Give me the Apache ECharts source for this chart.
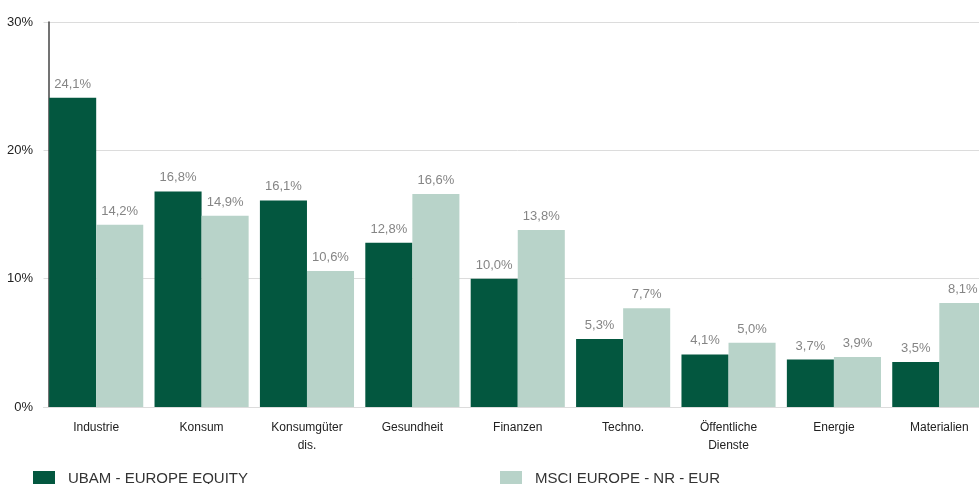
<!DOCTYPE html>
<html>
<head>
<meta charset="utf-8">
<script src="https://cdn.jsdelivr.net/npm/echarts@6/dist/echarts.min.js"></script>
<style>
  html, body { margin: 0; padding: 0; background: #fff; overflow: hidden; }
  /* chart is a bit wider than the window: the last bar is cut at the right edge */
  #chart { width: 992px; height: 484px; }
</style>
</head>
<body>
<div id="chart"></div>
<script>
// Sektorallokation: Fonds gegen Index
const categories = ['Industrie', 'Konsum', 'Konsumgüter\ndis.', 'Gesundheit', 'Finanzen', 'Techno.', 'Öffentliche\nDienste', 'Energie', 'Materialien']
const fundValues = [24.1, 16.8, 16.1, 12.8, 10.0, 5.3, 4.1, 3.7, 3.5]
const indexValues = [14.2, 14.9, 10.6, 16.6, 13.8, 7.7, 5.0, 3.9, 8.1]
const yTicks = [0, 10, 20, 30]

const fmt = v => v.toFixed(1).replace('.', ',') + '%'
const font = 'Liberation Sans'

const labelStyle = {
  show: true,
  position: 'top',
  distance: 7,
  color: '#858585',
  fontSize: 13,
  fontFamily: font,
  formatter: p => fmt(p.value)
}

const legendBase = {
  top: 466,
  itemWidth: 22, itemHeight: 16,
  icon: 'rect',
  textStyle: { color: '#333', fontSize: 15, fontFamily: font, padding: [0, 0, 0, 8] }
}

const myChart = echarts.init(document.getElementById('chart'))
myChart.setOption({
  animation: false,
  grid: { left: 43.5, right: 0, top: 22, bottom: 77, containLabel: false },
  legend: [
    Object.assign({ data: ['UBAM - EUROPE EQUITY'], left: 28 }, legendBase),
    Object.assign({ data: ['MSCI EUROPE - NR - EUR'], left: 495 }, legendBase)
  ],
  xAxis: {
    type: 'category',
    data: categories,
    axisTick: { show: false },
    axisLine: { show: true, lineStyle: { color: '#dcdcdc', width: 1 } },
    axisLabel: { color: '#222', fontSize: 12, fontFamily: font, margin: 12, lineHeight: 18 }
  },
  yAxis: {
    type: 'value',
    min: 0,
    max: 30,
    interval: 10,
    offset: -5.5,
    axisLine: { show: true, lineStyle: { color: '#444', width: 1.5 } },
    axisTick: { show: false },
    axisLabel: {
      color: '#222', fontSize: 13, fontFamily: font, margin: 16,
      formatter: v => (yTicks.includes(v) ? v + '%' : '')
    },
    splitLine: { lineStyle: { color: '#dcdcdc', width: 1 } }
  },
  series: [
    {
      name: 'UBAM - EUROPE EQUITY',
      type: 'bar',
      data: fundValues,
      barGap: '0%',
      barCategoryGap: '10.7%',
      itemStyle: { color: '#03573f' },
      label: labelStyle
    },
    {
      name: 'MSCI EUROPE - NR - EUR',
      type: 'bar',
      data: indexValues,
      itemStyle: { color: '#b8d3c9' },
      label: labelStyle
    }
  ]
})
</script>
</body>
</html>
